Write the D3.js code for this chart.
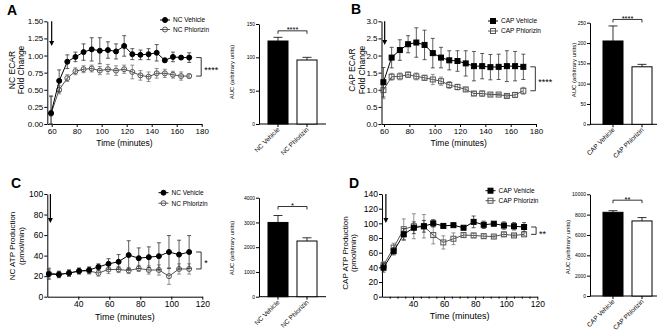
<!DOCTYPE html>
<html>
<head>
<meta charset="utf-8">
<script src="https://cdn.jsdelivr.net/npm/d3@7"></script>
<style>
  body { margin: 0; background: #fff; }
  text { font-family: "Liberation Sans", Arial, sans-serif; }
</style>
</head>
<body>
<div id="chart"></div>
<script>
// time points (minutes)
const timesAB = [59.5, 66, 72.5, 79, 85.5, 92, 98.5, 105, 111.5, 118, 124.5, 131, 137.5, 144, 150.5, 157, 163.5, 170];
const timesCD = [21, 27.5, 34, 40.5, 47, 53, 59.5, 66, 72.5, 79, 85.5, 92, 98.5, 105, 111.5];

// A - NC ECAR fold change
const ncEcarVeh    = [0.16, 0.63, 0.91, 0.98, 1.05, 1.09, 1.07, 1.08, 1.06, 1.14, 1.02, 1.01, 1.02, 1.04, 0.93, 0.98, 0.97, 0.97];
const ncEcarVehErr = [0.25, 0.16, 0.10, 0.07, 0.12, 0.17, 0.19, 0.12, 0.11, 0.15, 0.08, 0.07, 0.08, 0.12, 0.03, 0.07, 0.02, 0.07];
const ncEcarPhl    = [0.15, 0.50, 0.67, 0.77, 0.80, 0.81, 0.78, 0.80, 0.78, 0.80, 0.76, 0.71, 0.69, 0.74, 0.74, 0.72, 0.70, 0.70];
const ncEcarPhlErr = [0.25, 0.06, 0.05, 0.05, 0.05, 0.05, 0.06, 0.07, 0.07, 0.06, 0.10, 0.07, 0.07, 0.07, 0.06, 0.05, 0.06, 0.03];

// B - CAP ECAR fold change
const capEcarVeh    = [1.22, 1.94, 2.16, 2.33, 2.38, 2.31, 2.07, 1.94, 1.86, 1.84, 1.77, 1.69, 1.69, 1.66, 1.67, 1.69, 1.69, 1.67];
const capEcarVehErr = [0.43, 0.30, 0.30, 0.25, 0.43, 0.43, 0.43, 0.30, 0.28, 0.30, 0.37, 0.43, 0.37, 0.37, 0.37, 0.45, 0.43, 0.37];
const capEcarPhl    = [0.99, 1.38, 1.39, 1.44, 1.39, 1.35, 1.30, 1.25, 1.14, 1.08, 1.01, 0.89, 0.89, 0.86, 0.86, 0.82, 0.85, 0.97];
const capEcarPhlErr = [0.25, 0.10, 0.10, 0.08, 0.10, 0.07, 0.15, 0.12, 0.10, 0.08, 0.05, 0.06, 0.08, 0.04, 0.03, 0.04, 0.07, 0.10];

// C - NC ATP production
const ncAtpVeh    = [22, 21.5, 23, 25, 26, 29, 32, 34, 40.5, 37.5, 38.5, 39.5, 43.5, 41, 43.5];
const ncAtpVehErr = [5, 3, 3, 3, 3, 3, 5, 7, 14, 10, 10, 13, 16, 14, 16];
const ncAtpPhl    = [23, 22, 23, 25, 25, 23, 26.5, 26.5, 25.5, 27.5, 26, 26, 20, 27, 27];
const ncAtpPhlErr = [5, 3, 3, 2, 3, 3, 4, 3, 3, 3, 4, 5, 8, 5, 5];

// D - CAP ATP production
const capAtpVeh    = [39.5, 62, 85, 94, 96, 100, 96.5, 97.5, 94, 102, 98, 99.5, 97, 96, 95];
const capAtpVehErr = [6, 5, 8, 8, 8, 5, 2, 2, 2, 8, 5, 2, 5, 5, 6];
const capAtpPhl    = [43, 67, 92, 96, 96, 84, 74, 79, 84, 83.5, 82.5, 82, 85, 83.5, 85];
const capAtpPhlErr = [5, 6, 14, 17, 16, 12, 9, 8, 3, 3, 3, 2, 3, 2, 2];

// AUC bars
const ncGroups  = ["NC Vehicle", "NC Phlorizin"];
const capGroups = ["CAP Vehicle", "CAP Phlorizin"];
const ncEcarAuc = [124.5, 96],   ncEcarAucErr = [5.5, 4];
const capEcarAuc = [205, 141.5], capEcarAucErr = [37, 6];
const ncAtpAuc = [3000, 2250],   ncAtpAucErr = [280, 130];
const capAtpAuc = [8230, 7380],  capAtpAucErr = [160, 330];

// tick values
const timeTicksAB = [60, 80, 100, 120, 140, 160, 180];
const timeTicksCD = [40, 60, 80, 100, 120];
const ncEcarTicks = [0, 0.25, 0.5, 0.75, 1, 1.25, 1.5];
const capEcarTicks = [0, 0.5, 1, 1.5, 2, 2.5, 3];
const ncAtpTicks = [0, 20, 40, 60, 80, 100];
const capAtpTicks = [0, 20, 40, 60, 80, 100, 120, 140];
const ncEcarAucTicks = [0, 50, 100, 150];
const capEcarAucTicks = [0, 50, 100, 150, 200, 250];
const ncAtpAucTicks = [0, 1000, 2000, 3000, 4000];
const capAtpAucTicks = [0, 2000, 4000, 6000, 8000, 10000];

const svg = d3.select("#chart").append("svg")
    .attr("width", 666)
    .attr("height", 336);

function drawMarker(g, shape, filled, color, cx, cy) {
    if (shape === "circle") {
        g.append("circle").attr("cx", cx).attr("cy", cy).attr("r", 2.5)
            .attr("fill", filled ? color : "none").attr("stroke", color).attr("stroke-width", 1);
    } else {
        g.append("rect").attr("x", cx - 2.5).attr("y", cy - 2.5).attr("width", 5).attr("height", 5)
            .attr("fill", filled ? color : "none").attr("stroke", color).attr("stroke-width", 1);
    }
}

function lineChart(c) {
    const g = svg.append("g");
    const x = d3.scaleLinear().domain(c.xDom).range(c.xRange);
    const y = d3.scaleLinear().domain(c.yDom).range(c.yRange);

    const xa = g.append("g")
        .attr("transform", `translate(0,${c.yRange[0]})`)
        .call(d3.axisBottom(x).tickValues(c.xTicks).tickSize(3).tickPadding(1).tickSizeOuter(0).tickFormat(d3.format("d")));
    xa.selectAll("text").style("font-size", c.tickFont + "px").attr("fill", "#000");
    if (c.minor) {
        g.append("g")
            .attr("transform", `translate(0,${c.yRange[0]})`)
            .call(d3.axisBottom(x).tickValues(d3.range(25, 120, 5).filter(v => v % 20 !== 0)).tickSize(2).tickFormat(""))
            .select(".domain").remove();
    }
    const ya = g.append("g")
        .attr("transform", `translate(${c.xRange[0]},0)`)
        .call(d3.axisLeft(y).tickValues(c.yTicks).tickSize(3).tickPadding(1).tickSizeOuter(0).tickFormat(d3.format(c.yFmt)));
    ya.selectAll("text").style("font-size", c.tickFont + "px").attr("fill", "#000");
    g.selectAll(".domain, .tick line").attr("stroke", "#000");

    // series: phlorizin underneath, vehicle on top
    const series = [
        {vals: c.phl, err: c.phlErr, filled: false, color: "#555", errColor: "#777"},
        {vals: c.veh, err: c.vehErr, filled: true, color: "#000", errColor: "#333"}
    ];
    series.forEach(s => {
        const pts = c.times.map((t, i) => ({t, v: s.vals[i], e: s.err[i]}));
        const eg = g.append("g").attr("stroke", s.errColor).attr("stroke-width", 0.8);
        pts.forEach(p => {
            const lo = y(Math.max(c.yDom[0], p.v - p.e)), hi = y(p.v + p.e), px = x(p.t);
            eg.append("line").attr("x1", px).attr("x2", px).attr("y1", lo).attr("y2", hi);
            eg.append("line").attr("x1", px - 2).attr("x2", px + 2).attr("y1", hi).attr("y2", hi);
            eg.append("line").attr("x1", px - 2).attr("x2", px + 2).attr("y1", lo).attr("y2", lo);
        });
        g.append("path").datum(pts)
            .attr("fill", "none").attr("stroke", s.color).attr("stroke-width", 1)
            .attr("d", d3.line().x(d => x(d.t)).y(d => y(d.v)));
        const mg = g.append("g");
        pts.forEach(p => drawMarker(mg, c.shape, s.filled, s.color, x(p.t), y(p.v)));
    });

    // injection arrow
    const ax = x(c.arrowT);
    g.append("line").attr("x1", ax).attr("x2", ax).attr("y1", c.yRange[1]).attr("y2", c.arrowY - 4)
        .attr("stroke", "#000").attr("stroke-width", 1.2);
    g.append("path").attr("d", `M${ax - 2.5},${c.arrowY - 5}L${ax + 2.5},${c.arrowY - 5}L${ax},${c.arrowY}Z`).attr("fill", "#000");

    // significance bracket at the last time point
    const lastT = c.times[c.times.length - 1];
    const y1 = y(c.veh[c.veh.length - 1]), y2 = y(c.phl[c.phl.length - 1]);
    const bx0 = x(lastT) + 7, bx1 = x(lastT) + 12;
    g.append("path").attr("d", `M${bx0},${y1}H${bx1}V${y2}H${bx0}`)
        .attr("fill", "none").attr("stroke", "#000").attr("stroke-width", 0.8);
    g.append("text").attr("x", bx1 + 3).attr("y", (y1 + y2) / 2 + 6)
        .style("font-size", "9px").text(c.sig);

    // legend
    c.names.forEach((n, i) => {
        const ly = c.legY + i * c.legGap;
        const s = series[1 - i];
        g.append("line").attr("x1", c.legX - 5).attr("x2", c.legX + 5).attr("y1", ly).attr("y2", ly)
            .attr("stroke", s.color).attr("stroke-width", 1);
        drawMarker(g, c.shape, s.filled, s.color, c.legX, ly);
        g.append("text").attr("x", c.legX + 8).attr("y", ly + 2.3)
            .style("font-size", "6.5px").text(n);
    });

    // axis titles
    g.append("text").attr("x", (c.xRange[0] + c.xRange[1]) / 2).attr("y", c.timeY)
        .attr("text-anchor", "middle").style("font-size", c.timeFont + "px").text("Time (minutes)");
    c.yTitle.forEach((t, i) => {
        g.append("text")
            .attr("transform", `translate(${c.yTitleX[i]},${c.yTitleY}) rotate(-90)`)
            .attr("text-anchor", "middle").style("font-size", c.yTitleFont + "px").text(t);
    });

    g.append("text").attr("x", c.letterX).attr("y", c.letterY)
        .style("font-size", "14px").style("font-weight", "bold").text(c.letter);
}

function barChart(c) {
    const g = svg.append("g");
    const x = d3.scaleBand().domain(c.groups).range(c.band).padding(0.31);
    const y = d3.scaleLinear().domain([0, c.yTicks[c.yTicks.length - 1]]).range(c.yRange);
    const y0 = c.yRange[0];

    const ya = g.append("g")
        .attr("transform", `translate(${c.axisX},0)`)
        .call(d3.axisLeft(y).tickValues(c.yTicks).tickSize(3).tickPadding(1).tickSizeOuter(0).tickFormat(d3.format("d")));
    ya.selectAll("text").style("font-size", "5px").attr("fill", "#000");

    g.append("line").attr("x1", c.axisX).attr("x2", c.xEnd).attr("y1", y0).attr("y2", y0)
        .attr("stroke", "#000").attr("stroke-width", 1);

    const rows = c.groups.map((k, i) => ({k, v: c.vals[i], e: c.errs[i], i}));

    g.selectAll("rect.bar").data(rows).join("rect")
        .attr("class", "bar")
        .attr("x", d => x(d.k))
        .attr("y", d => y(d.v))
        .attr("width", x.bandwidth())
        .attr("height", d => y0 - y(d.v))
        .attr("fill", d => d.i === 0 ? "#000" : "#fff")
        .attr("stroke", "#000").attr("stroke-width", 1);

    rows.forEach(d => {
        const cx = x(d.k) + x.bandwidth() / 2;
        g.append("line").attr("x1", cx).attr("x2", cx).attr("y1", y(d.v)).attr("y2", y(d.v + d.e))
            .attr("stroke", "#000").attr("stroke-width", 0.8);
        g.append("line").attr("x1", cx - 4.5).attr("x2", cx + 4.5).attr("y1", y(d.v + d.e)).attr("y2", y(d.v + d.e))
            .attr("stroke", "#000").attr("stroke-width", 0.8);
        g.append("line").attr("x1", cx).attr("x2", cx).attr("y1", y0).attr("y2", y0 + 3)
            .attr("stroke", "#000").attr("stroke-width", 1);
        g.append("text")
            .attr("transform", `translate(${cx + 2},${y0 + 6}) rotate(-45)`)
            .attr("text-anchor", "end").style("font-size", "6.5px").text(d.k);
    });

    // bracket
    const top = d3.min(rows, d => y(d.v + d.e));
    const by = top - c.sigGap;
    const c0 = x(c.groups[0]) + x.bandwidth() / 2, c1 = x(c.groups[1]) + x.bandwidth() / 2;
    g.append("path").attr("d", `M${c0},${by + 3}V${by}H${c1}V${by + 3}`)
        .attr("fill", "none").attr("stroke", "#000").attr("stroke-width", 0.8);
    g.append("text").attr("x", (c0 + c1) / 2).attr("y", by + 1.5).attr("text-anchor", "middle")
        .style("font-size", "7.5px").text(c.sig);

    g.append("text")
        .attr("transform", `translate(${c.titleX},${c.titleY}) rotate(-90)`)
        .attr("text-anchor", "middle").style("font-size", "6px").text("AUC (arbitrary units)");
}

lineChart({
    letter: "A", letterX: 7, letterY: 15,
    times: timesAB, veh: ncEcarVeh, vehErr: ncEcarVehErr, phl: ncEcarPhl, phlErr: ncEcarPhlErr,
    xDom: [56.5, 180], xRange: [47.3, 201.7], yDom: [0, 1.5], yRange: [124, 21.3],
    xTicks: timeTicksAB, yTicks: ncEcarTicks, yFmt: ".2f", tickFont: 8, minor: false,
    shape: "circle", arrowT: 60, arrowY: 46, sig: "****",
    names: ["NC Vehicle", "NC Phlorizin"], legX: 165, legY: 20, legGap: 9.5,
    timeY: 145.5, timeFont: 8.5,
    yTitle: ["NC ECAR", "Fold Change"], yTitleX: [14.5, 23.5], yTitleY: 70, yTitleFont: 8.5
});

lineChart({
    letter: "B", letterX: 351, letterY: 14,
    times: timesAB, veh: capEcarVeh, vehErr: capEcarVehErr, phl: capEcarPhl, phlErr: capEcarPhlErr,
    xDom: [58, 180], xRange: [381.5, 536], yDom: [0, 3], yRange: [124, 21.3],
    xTicks: timeTicksAB, yTicks: capEcarTicks, yFmt: ".1f", tickFont: 8, minor: false,
    shape: "square", arrowT: 60.5, arrowY: 45, sig: "****",
    names: ["CAP Vehicle", "CAP Phlorizin"], legX: 493, legY: 21, legGap: 10,
    timeY: 146, timeFont: 8.5,
    yTitle: ["CAP  ECAR", "Fold Change"], yTitleX: [355, 364.5], yTitleY: 70, yTitleFont: 8.5
});

lineChart({
    letter: "C", letterX: 11, letterY: 188,
    times: timesCD, veh: ncAtpVeh, vehErr: ncAtpVehErr, phl: ncAtpPhl, phlErr: ncAtpPhlErr,
    xDom: [20, 120], xRange: [47.3, 202.3], yDom: [0, 100], yRange: [296.7, 194],
    xTicks: timeTicksCD, yTicks: ncAtpTicks, yFmt: "d", tickFont: 8.5, minor: false,
    shape: "circle", arrowT: 22, arrowY: 223, sig: "*",
    names: ["NC Vehicle", "NC Phlorizin"], legX: 163.5, legY: 192.7, legGap: 10.5,
    timeY: 320, timeFont: 9,
    yTitle: ["NC ATP Production", "(pmol/min)"], yTitleX: [15, 23.5], yTitleY: 246, yTitleFont: 8
});

lineChart({
    letter: "D", letterX: 349, letterY: 188,
    times: timesCD, veh: capAtpVeh, vehErr: capAtpVehErr, phl: capAtpPhl, phlErr: capAtpPhlErr,
    xDom: [20, 120], xRange: [382, 537.3], yDom: [0, 140], yRange: [296.7, 194],
    xTicks: timeTicksCD, yTicks: capAtpTicks, yFmt: "d", tickFont: 8.5, minor: true,
    shape: "square", arrowT: 22.5, arrowY: 223, sig: "**",
    names: ["CAP Vehicle", "CAP Phlorizin"], legX: 490.5, legY: 190.7, legGap: 10,
    timeY: 318.5, timeFont: 9,
    yTitle: ["CAP ATP Production", "(pmol/min)"], yTitleX: [347.5, 356], yTitleY: 253, yTitleFont: 8
});

barChart({
    groups: ncGroups, vals: ncEcarAuc, errs: ncEcarAucErr, yTicks: ncEcarAucTicks,
    axisX: 259, band: [259, 326], xEnd: 326, yRange: [124, 24], sigGap: 6.5, sig: "****",
    titleX: 234, titleY: 72
});
barChart({
    groups: capGroups, vals: capEcarAuc, errs: capEcarAucErr, yTicks: capEcarAucTicks,
    axisX: 590, band: [594, 661], xEnd: 657, yRange: [124.3, 22.7], sigGap: 6.5, sig: "****",
    titleX: 576, titleY: 70
});
barChart({
    groups: ncGroups, vals: ncAtpAuc, errs: ncAtpAucErr, yTicks: ncAtpAucTicks,
    axisX: 259, band: [259, 326], xEnd: 326, yRange: [296.7, 197.7], sigGap: 9, sig: "*",
    titleX: 234, titleY: 248
});
barChart({
    groups: capGroups, vals: capAtpAuc, errs: capAtpAucErr, yTicks: capAtpAucTicks,
    axisX: 590, band: [594, 661], xEnd: 657, yRange: [296, 194.3], sigGap: 10.5, sig: "**",
    titleX: 570, titleY: 247
});
</script>
</body>
</html>
